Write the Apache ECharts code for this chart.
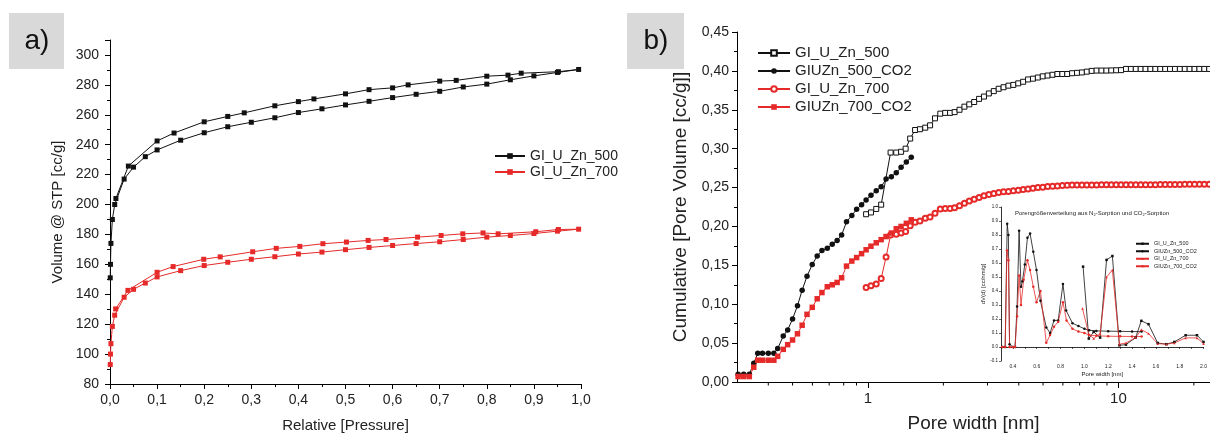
<!DOCTYPE html>
<html>
<head>
<meta charset="utf-8">
<script src="https://cdn.jsdelivr.net/npm/echarts/dist/echarts.min.js"></script>
<style>
html,body{margin:0;padding:0;background:#fff;}
#main{width:1210px;height:438px;}
</style>
</head>
<body>
<div id="main"></div>
<script>
// ---------- Panel a: isotherms (Relative pressure, Volume @ STP) ----------
const a500Ads = [[0.0005,151],[0.001,160],[0.002,174],[0.005,190],[0.01,200],[0.03,217],[0.05,225],[0.075,232],[0.1,236.5],[0.15,243],[0.2,248],[0.25,252],[0.3,255],[0.35,258],[0.4,261.5],[0.45,264],[0.5,266.6],[0.55,269],[0.6,271.5],[0.65,273.7],[0.7,275.7],[0.75,278.6],[0.8,280.5],[0.85,283.4],[0.9,286],[0.95,288.3],[0.995,290.3]];
const a500Des = [[0.952,288.8],[0.873,287.8],[0.845,286.5],[0.8,285.8],[0.735,283],[0.7,282.5],[0.633,280],[0.6,278],[0.55,276.8],[0.5,274],[0.433,270.6],[0.4,268.8],[0.35,266],[0.285,261.3],[0.25,258.9],[0.2,255.3],[0.136,247.8],[0.1,242.5],[0.039,225.7],[0.0125,204]];
const a700Ads = [[0.0005,93],[0.001,100],[0.002,107],[0.005,118.5],[0.01,126],[0.03,138],[0.05,143.3],[0.075,147.5],[0.1,151.6],[0.15,155.8],[0.2,159.2],[0.25,161.4],[0.3,163.4],[0.35,165.1],[0.4,166.9],[0.45,168.2],[0.5,169.8],[0.55,171.3],[0.6,172.6],[0.65,173.9],[0.7,175.1],[0.75,176.6],[0.8,178.2],[0.85,179.3],[0.9,180.6],[0.95,182.2],[0.995,183.5]];
const a700Des = [[0.952,183.3],[0.904,181.8],[0.824,180.4],[0.792,181],[0.749,180.4],[0.703,179.3],[0.653,178.2],[0.586,176.6],[0.548,176],[0.502,174.9],[0.452,173.8],[0.403,172],[0.353,170.7],[0.303,168.4],[0.234,165],[0.199,163.4],[0.134,158.5],[0.1,154.7],[0.038,142.6],[0.012,130.2]];
const aNames = ['GI_U_Zn_500', 'GI_U_Zn_700'];

// ---------- Panel b: cumulative pore volume vs pore width ----------
const bNames = ['GI_U_Zn_500 ', 'GIUZn_500_CO2 ', 'GI_U_Zn_700 ', 'GIUZn_700_CO2 '];
const b500 = [[0.983,0.2157],[1.028,0.218],[1.079,0.2225],[1.129,0.228],[1.231,0.295],[1.297,0.295],[1.356,0.296],[1.414,0.300],[1.474,0.313],[1.542,0.324],[1.612,0.325],[1.693,0.327],[1.770,0.330],[1.852,0.339],[1.944,0.345],[2.034,0.346],[2.127,0.346],[2.218,0.347],[2.320,0.350],[2.427,0.354],[2.538,0.357],[2.655,0.360],[2.777,0.364],[2.905,0.367],[3.039,0.371],[3.179,0.374],[3.325,0.377],[3.478,0.379],[3.638,0.381],[3.806,0.382],[3.981,0.384],[4.164,0.386],[4.356,0.389],[4.557,0.390],[4.767,0.3915],[4.986,0.393],[5.216,0.394],[5.456,0.395],[5.707,0.396],[5.970,0.396],[6.245,0.396],[6.531,0.397],[6.833,0.3975],[7.147,0.398],[7.477,0.399],[7.821,0.400],[8.181,0.4004],[8.557,0.4004],[8.951,0.4004],[9.363,0.4006],[9.795,0.4008],[10.24,0.401],[10.72,0.4025],[11.21,0.4025],[11.73,0.4025],[12.27,0.4025],[12.83,0.4025],[13.42,0.4025],[14.04,0.4025],[14.69,0.4025],[15.37,0.4025],[16.07,0.4025],[16.81,0.4025],[17.59,0.4025],[18.40,0.4025],[19.24,0.4025],[20.13,0.4025],[21.05,0.4025],[22.02,0.4025],[23.04,0.4025]];
const b500CO2 = [[0.303,0.010],[0.319,0.010],[0.336,0.010],[0.350,0.024],[0.363,0.037],[0.379,0.037],[0.400,0.037],[0.421,0.037],[0.436,0.043],[0.459,0.059],[0.478,0.067],[0.500,0.081],[0.523,0.098],[0.546,0.118],[0.571,0.136],[0.599,0.151],[0.627,0.162],[0.655,0.169],[0.688,0.172],[0.720,0.177],[0.753,0.182],[0.785,0.189],[0.821,0.206],[0.862,0.214],[0.901,0.222],[0.943,0.228],[0.983,0.234],[1.028,0.240],[1.079,0.246],[1.129,0.251],[1.181,0.261],[1.240,0.264],[1.297,0.269],[1.356,0.276],[1.423,0.283],[1.489,0.289]];
const b700 = [[0.983,0.1216],[1.028,0.1237],[1.079,0.126],[1.129,0.133],[1.181,0.1606],[1.231,0.189],[1.297,0.190],[1.356,0.1915],[1.414,0.1936],[1.474,0.201],[1.542,0.2055],[1.612,0.207],[1.693,0.2106],[1.770,0.212],[1.852,0.217],[1.944,0.2225],[2.034,0.223],[2.127,0.223],[2.218,0.224],[2.320,0.2267],[2.427,0.2297],[2.538,0.2326],[2.655,0.235],[2.777,0.2373],[2.905,0.2394],[3.039,0.241],[3.179,0.2424],[3.325,0.2436],[3.478,0.2445],[3.638,0.245],[3.806,0.2458],[3.981,0.2466],[4.164,0.2475],[4.356,0.2483],[4.557,0.249],[4.767,0.250],[4.986,0.2505],[5.216,0.2513],[5.456,0.2517],[5.707,0.2521],[5.970,0.2525],[6.245,0.253],[6.531,0.2532],[6.833,0.2534],[7.147,0.2534],[7.477,0.2534],[7.821,0.2534],[8.181,0.2534],[8.557,0.2535],[8.951,0.2535],[9.363,0.2535],[9.795,0.2535],[10.24,0.2536],[10.72,0.2536],[11.21,0.2536],[11.73,0.2536],[12.27,0.2536],[12.83,0.2537],[13.42,0.2537],[14.04,0.2537],[14.69,0.2538],[15.37,0.2538],[16.07,0.2538],[16.81,0.2538],[17.59,0.254],[18.40,0.2542],[19.24,0.2542],[20.13,0.2542],[21.05,0.2542],[22.02,0.2542],[23.04,0.2542]];
const b700CO2 = [[0.303,0.007],[0.319,0.007],[0.336,0.007],[0.350,0.019],[0.363,0.028],[0.379,0.028],[0.400,0.028],[0.421,0.028],[0.436,0.033],[0.459,0.042],[0.478,0.048],[0.500,0.054],[0.523,0.062],[0.546,0.073],[0.571,0.087],[0.599,0.096],[0.627,0.107],[0.655,0.115],[0.688,0.1225],[0.720,0.125],[0.753,0.128],[0.785,0.134],[0.821,0.149],[0.862,0.1555],[0.901,0.160],[0.943,0.165],[0.983,0.170],[1.028,0.1746],[1.079,0.179],[1.129,0.183],[1.181,0.187],[1.240,0.1915],[1.297,0.197],[1.356,0.200],[1.423,0.204],[1.489,0.2085]];
const bMinorTicks = [0.4,0.5,0.6,0.7,0.8,0.9,2,3,4,5,6,7,8,9,20];

// ---------- Inset: pore size distribution ----------
const insetTitle = 'Porengrößenverteilung aus N₂-Sorption und CO₂-Sorption';
const iNames = ['GI_U_Zn_500  ', 'GIUZn_500_CO2  ', 'GI_U_Zn_700  ', 'GIUZn_700_CO2  '];
const i500 = [[0.989,0.574],[1.037,0.06],[1.078,0.108],[1.132,0.067],[1.186,0.622],[1.235,0.65],[1.294,0.012],[1.349,0.017],[1.43,0.067],[1.478,0.187],[1.538,0.163],[1.615,0.029],[1.688,0.02],[1.755,0.036],[1.85,0.084],[1.945,0.084],[2.0,0.036]];
const i500CO2 = [[0.31,0],[0.335,0],[0.352,0.88],[0.362,0.80],[0.372,0.02],[0.40,0],[0.418,0],[0.435,0.29],[0.452,0.83],[0.468,0.43],[0.48,0.47],[0.50,0.59],[0.522,0.78],[0.544,0.81],[0.571,0.68],[0.598,0.55],[0.631,0.33],[0.68,0.14],[0.712,0.10],[0.745,0.19],[0.78,0.19],[0.82,0.45],[0.847,0.26],[0.90,0.17],[0.95,0.15],[1.0,0.13],[1.04,0.12],[1.1,0.115],[1.2,0.113],[1.3,0.112],[1.4,0.11],[1.48,0.11]];
const i700 = [[0.984,0.275],[1.037,0.09],[1.078,0.06],[1.132,0.096],[1.186,0.50],[1.235,0.55],[1.294,0.02],[1.349,0.029],[1.43,0.067],[1.478,0.124],[1.538,0.096],[1.615,0.024],[1.688,0.02],[1.755,0.029],[1.85,0.065],[1.945,0.065],[2.0,0.024]];
const i700CO2 = [[0.31,0],[0.335,0],[0.350,0.69],[0.362,0.62],[0.372,0],[0.40,0],[0.418,0],[0.435,0.22],[0.452,0.51],[0.468,0.30],[0.49,0.48],[0.522,0.62],[0.544,0.55],[0.571,0.43],[0.598,0.32],[0.631,0.40],[0.68,0.03],[0.712,0.085],[0.745,0.145],[0.78,0.18],[0.82,0.32],[0.85,0.19],[0.90,0.13],[0.95,0.11],[1.0,0.10],[1.04,0.085],[1.1,0.08],[1.2,0.077],[1.3,0.076],[1.4,0.075],[1.48,0.075]];

const BLACK = '#111111';
const RED = '#e62a2a';
const FONT = 'Liberation Sans, Arial, sans-serif';
const TXT = '#222';

const chart = echarts.init(document.getElementById('main'), null, {renderer: 'canvas'});

function baseAxis(extra) {
  return Object.assign({
    axisLine: {show: true, lineStyle: {color: '#000', width: 1}},
    axisTick: {show: true, inside: false, length: 5, lineStyle: {color: '#000'}},
    splitLine: {show: false},
    nameTextStyle: {color: TXT, fontFamily: FONT}
  }, extra);
}

const option = {
  animation: false,
  backgroundColor: '#fff',
  textStyle: {fontFamily: FONT},
  grid: [
    {left: 110, right: 629, top: 40, bottom: 51},
    {left: 737, right: 0, top: 32, bottom: 52},
    {left: 1001, right: 0, top: 207, bottom: 77}
  ],
  xAxis: [
    baseAxis({
      gridIndex: 0, type: 'value', min: 0, max: 1, interval: 0.1,
      minorTick: {show: true, splitNumber: 2, length: 3, lineStyle: {color: '#000'}},
      axisLabel: {fontSize: 14, color: TXT, margin: 9, fontFamily: FONT,
        formatter: v => v.toFixed(1).replace('.', ',')},
      name: 'Relative [Pressure]', nameLocation: 'middle', nameGap: 34,
      nameTextStyle: {fontSize: 15, color: TXT, fontFamily: FONT}
    }),
    baseAxis({
      gridIndex: 1, type: 'log', logBase: 10, min: 0.3, max: 23.2,
      axisTick: {show: true, length: 6, lineStyle: {color: '#000'}},
      axisLabel: {fontSize: 15, color: TXT, margin: 9, fontFamily: FONT, showMinLabel: false, showMaxLabel: false,
        formatter: v => String(Math.round(v))},
      name: 'Pore width [nm]', nameLocation: 'middle', nameGap: 32,
      nameTextStyle: {fontSize: 19, color: TXT, fontFamily: FONT}
    }),
    baseAxis({
      gridIndex: 2, type: 'value', min: 0.3, max: 2.0, interval: 0.1,
      axisTick: {show: true, length: 2, lineStyle: {color: '#000', width: 0.6}},
      axisLine: {show: true, lineStyle: {color: '#000', width: 0.8}},
      axisLabel: {fontSize: 5, color: TXT, margin: 3, fontFamily: FONT, showMaxLabel: true,
        formatter: v => { const k = Math.round(v * 10); return k % 2 === 0 ? (k / 10).toFixed(1) : ''; }},
      name: 'Pore width [nm]', nameLocation: 'middle', nameGap: 10,
      nameTextStyle: {fontSize: 6, color: TXT, fontFamily: FONT}
    })
  ],
  yAxis: [
    baseAxis({
      gridIndex: 0, type: 'value', min: 80, max: 310, interval: 20,
      minorTick: {show: true, splitNumber: 2, length: 3, lineStyle: {color: '#000'}},
      axisLabel: {fontSize: 14, color: TXT, margin: 11, fontFamily: FONT, showMaxLabel: false},
      name: 'Volume @ STP [cc/g]', nameLocation: 'middle', nameGap: 45,
      nameTextStyle: {fontSize: 15, color: TXT, fontFamily: FONT}
    }),
    baseAxis({
      gridIndex: 1, type: 'value', min: 0, max: 0.45, interval: 0.05,
      minorTick: {show: true, splitNumber: 2, length: 3, lineStyle: {color: '#000'}},
      axisLabel: {fontSize: 14, color: TXT, margin: 8, fontFamily: FONT,
        formatter: v => v.toFixed(2).replace('.', ',')},
      name: 'Cumulative [Pore Volume [cc/g]]', nameLocation: 'middle', nameGap: 47,
      nameTextStyle: {fontSize: 19, color: TXT, fontFamily: FONT}
    }),
    baseAxis({
      gridIndex: 2, type: 'value', min: -0.1, max: 1.0, interval: 0.1,
      axisTick: {show: true, length: 2, lineStyle: {color: '#000', width: 0.6}},
      axisLine: {show: true, lineStyle: {color: '#000', width: 0.8}},
      axisLabel: {fontSize: 4.5, color: TXT, margin: 3, fontFamily: FONT,
        formatter: v => (Math.round(v * 10) / 10).toFixed(1)},
      name: 'dV(d) [cc/nm/g]', nameLocation: 'middle', nameGap: 14,
      nameTextStyle: {fontSize: 6, color: TXT, fontFamily: FONT}
    })
  ],
  legend: [
    {
      orient: 'vertical', left: 489, top: 143, itemWidth: 30, itemHeight: 7, itemGap: 0,
      data: aNames, formatter: n => n.trim(),
      textStyle: {fontSize: 14, color: TXT, lineHeight: 16, fontFamily: FONT}, selectedMode: false
    },
    {
      orient: 'vertical', left: 752, top: 39, itemWidth: 32, itemHeight: 7, itemGap: 0,
      data: bNames, formatter: n => n.trim(),
      textStyle: {fontSize: 15, color: TXT, lineHeight: 18, fontFamily: FONT}, selectedMode: false
    },
    {
      orient: 'vertical', left: 1130, top: 235, itemWidth: 13, itemHeight: 3, itemGap: 0,
      data: iNames, formatter: n => n.trim(),
      textStyle: {fontSize: 5.5, color: TXT, lineHeight: 7.5, fontFamily: FONT}, selectedMode: false
    }
  ],
  graphic: [
    {type: 'rect', shape: {x: 9, y: 13, width: 55, height: 56}, style: {fill: '#d9d9d9'}},
    {type: 'text', x: 37, y: 41, style: {text: 'a)', fontSize: 28, fontFamily: FONT, fill: '#111', align: 'center', verticalAlign: 'middle'}},
    {type: 'rect', shape: {x: 627, y: 13, width: 57, height: 56}, style: {fill: '#d9d9d9'}},
    {type: 'text', x: 656, y: 41, style: {text: 'b)', fontSize: 28, fontFamily: FONT, fill: '#111', align: 'center', verticalAlign: 'middle'}},
    {type: 'text', x: 1015, y: 213, style: {text: insetTitle, fontSize: 6, fontFamily: FONT, fill: '#222', align: 'left', verticalAlign: 'middle'}}
  ],
  series: [
    // panel a
    {name: aNames[0], type: 'line', xAxisIndex: 0, yAxisIndex: 0, data: a500Ads.concat(a500Des),
      symbol: 'rect', symbolSize: 5, lineStyle: {color: BLACK, width: 1}, itemStyle: {color: BLACK}},
    {name: aNames[1], type: 'line', xAxisIndex: 0, yAxisIndex: 0, data: a700Ads.concat(a700Des),
      symbol: 'rect', symbolSize: 5, lineStyle: {color: RED, width: 1}, itemStyle: {color: RED}},
    // panel b
    {name: bNames[0], type: 'line', xAxisIndex: 1, yAxisIndex: 1, data: b500,
      symbol: 'rect', symbolSize: 5, lineStyle: {color: BLACK, width: 1},
      itemStyle: {color: '#fff', borderColor: BLACK, borderWidth: 1}},
    {name: bNames[1], type: 'line', xAxisIndex: 1, yAxisIndex: 1, data: b500CO2,
      symbol: 'circle', symbolSize: 5.5, lineStyle: {color: BLACK, width: 1}, itemStyle: {color: BLACK}},
    {name: bNames[2], type: 'line', xAxisIndex: 1, yAxisIndex: 1, data: b700,
      symbol: 'emptyCircle', symbolSize: 5, lineStyle: {color: RED, width: 1},
      itemStyle: {color: RED, borderColor: RED, borderWidth: 1}},
    {name: bNames[3], type: 'line', xAxisIndex: 1, yAxisIndex: 1, data: b700CO2,
      symbol: 'rect', symbolSize: 5.5, lineStyle: {color: RED, width: 1}, itemStyle: {color: RED}},
    {type: 'custom', xAxisIndex: 1, yAxisIndex: 1, clip: false, silent: true,
      data: bMinorTicks.map(v => [v, 0]),
      renderItem: (params, api) => {
        const p = api.coord([api.value(0), 0]);
        return {type: 'line', shape: {x1: p[0], y1: p[1], x2: p[0], y2: p[1] + 3.5},
          style: {stroke: '#000', lineWidth: 1}};
      }},
    // inset
    {name: iNames[0], type: 'line', xAxisIndex: 2, yAxisIndex: 2, data: i500,
      symbol: 'rect', symbolSize: 2.5, lineStyle: {color: BLACK, width: 0.8}, itemStyle: {color: BLACK}},
    {name: iNames[1], type: 'line', xAxisIndex: 2, yAxisIndex: 2, data: i500CO2,
      symbol: 'circle', symbolSize: 2.5, lineStyle: {color: BLACK, width: 0.8}, itemStyle: {color: BLACK}},
    {name: iNames[2], type: 'line', xAxisIndex: 2, yAxisIndex: 2, data: i700,
      symbol: 'triangle', symbolSize: 2.5, lineStyle: {color: RED, width: 0.8}, itemStyle: {color: RED}},
    {name: iNames[3], type: 'line', xAxisIndex: 2, yAxisIndex: 2, data: i700CO2,
      symbol: 'circle', symbolSize: 2.5, lineStyle: {color: RED, width: 0.8}, itemStyle: {color: RED}}
  ]
};
chart.setOption(option);
</script>
</body>
</html>
